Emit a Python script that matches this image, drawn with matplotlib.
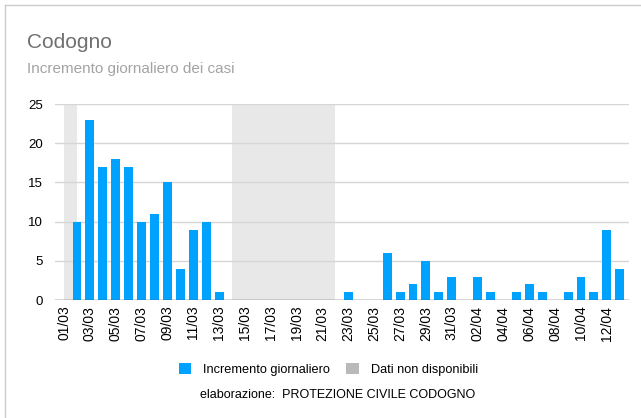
#!/usr/bin/env python3
"""Codogno: daily increment of cases, with missing-data days shaded."""
import matplotlib
matplotlib.use("Agg")
import matplotlib.pyplot as plt
from matplotlib.lines import Line2D
from matplotlib.patches import Patch

plt.rcParams["font.family"] = ["Liberation Sans", "DejaVu Sans"]

DATES = (
  [f"{d:02d}/03" for d in range(1, 32)]
  + [f"{d:02d}/04" for d in range(1, 14)]
)
# None = dato non disponibile
CASES = [
  None, 10, 23, 17, 18, 17, 10, 11, 15, 4, 9, 10, 1,
  None, None, None, None, None, None, None, None,
  0, 1, 0, 0, 6, 1, 2, 5, 1, 3,
  0, 3, 1, 0, 1, 2, 1, 0, 1, 3, 1, 9, 4,
]
Y_MAX = 25
Y_TICKS = [0, 5, 10, 15, 20, 25]

BLUE = "#00a2ff"
BAND = "#e8e8e8"
LEGEND_GREY = "#b9b9b9"

fig = plt.figure(figsize=(6.41, 4.18), dpi=100)
ax = fig.add_axes([0.0858, 0.282, 0.895, 0.469])

positions = list(range(len(DATES)))
missing = [i for i, v in zip(positions, CASES) if v is None]
present = [i for i, v in zip(positions, CASES) if v is not None]
values = [v for v in CASES if v is not None]

# the "no data" band starts at the day's tick and runs to the next one
ax.bar(missing, [Y_MAX] * len(missing), width=1.0, align="edge",
       color=BAND, zorder=0)
ax.bar(present, values, width=0.69, color=BLUE, zorder=3)

ax.set_xlim(-0.70, 43.69)
ax.set_ylim(0, Y_MAX)
ax.set_yticks(Y_TICKS)
ax.yaxis.grid(True, color="#d6d6d6", linewidth=1.0, zorder=1)
ax.set_axisbelow(False)
ax.axhline(0, color="#555555", linewidth=1.0, zorder=4)
for spine in ax.spines.values():
  spine.set_visible(False)

ax.set_xticks(positions[::2], DATES[::2], rotation=90)
ax.tick_params(axis="both", length=0, labelsize=9.5)
ax.tick_params(axis="x", pad=4, labelsize=10)
ax.tick_params(axis="y", pad=8.5)

fig.text(0.042, 0.921, "Codogno", fontsize=15, color="#707070", va="top")
fig.text(0.042, 0.852, "Incremento giornaliero dei casi", fontsize=11,
         color="#a3a3a3", va="top")

handles = [
  Patch(facecolor=BLUE, edgecolor="none", label="Incremento giornaliero"),
  Patch(facecolor=LEGEND_GREY, edgecolor="none", label="Dati non disponibili"),
]
fig.legend(handles=handles, loc="center", bbox_to_anchor=(0.512, 0.117),
           ncol=2, frameon=False, fontsize=9.2, handlelength=1.0,
           handleheight=1.0, handletextpad=0.9, columnspacing=1.3)
fig.text(0.527, 0.055, "elaborazione:  PROTEZIONE CIVILE CODOGNO",
         fontsize=9, ha="center", va="center")

# outer frame (top and left edges of the card)
fig.add_artist(Line2D([0.008, 1.0], [0.988, 0.988], color="#cccccc",
                      linewidth=1.0, transform=fig.transFigure))
fig.add_artist(Line2D([0.008, 0.008], [0.0, 0.988], color="#cccccc",
                      linewidth=1.0, transform=fig.transFigure))

fig.savefig("out.png", dpi=100)
